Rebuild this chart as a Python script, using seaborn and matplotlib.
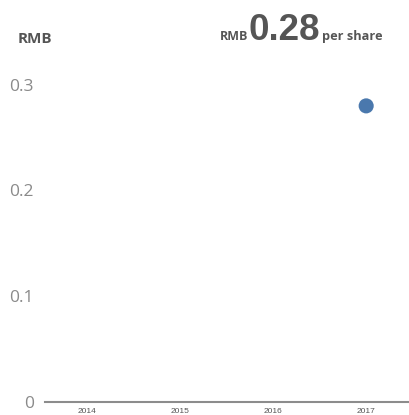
import numpy as np
import pandas as pd
import matplotlib
matplotlib.use("Agg")
import matplotlib.pyplot as plt
import seaborn as sns

years = ["2014", "2015", "2016", "2017"]
dividend = [np.nan, np.nan, np.nan, 0.28]
y_ticks = [0, 0.1, 0.2, 0.3]
y_tick_labels = ["0", "0.1", "0.2", "0.3"]

df = pd.DataFrame({"year": years, "dividend": dividend})

sns.set_theme(style="white")
plt.rcParams["font.family"] = ["Open Sans", "DejaVu Sans"]

fig = plt.figure(figsize=(4.09, 4.15), dpi=100)
ax = fig.add_axes([45 / 409, 13 / 415, 1 - 45 / 409, (402 - 53) / 415])

sns.scatterplot(data=df, x="year", y="dividend", ax=ax, s=118,
                color="#4a78ad", edgecolor="none", legend=False)

ax.set_xlim(-0.45, 3.46)
ax.set_ylim(0, 0.33)
ax.set_yticks(y_ticks)
ax.set_yticklabels(y_tick_labels)
ax.set_xlabel("")
ax.set_ylabel("")

for side in ["top", "right", "left"]:
    ax.spines[side].set_visible(False)
ax.spines["bottom"].set_color("#8c8c8c")
ax.spines["bottom"].set_linewidth(1.5)

ax.tick_params(axis="y", length=0, pad=8, labelsize=12.5, labelcolor="#8a8a8a")
ax.tick_params(axis="x", length=0, pad=4, labelsize=6, labelcolor="#555555")
for lbl in ax.get_xticklabels():
    lbl.set_family(["Liberation Sans", "DejaVu Sans"])

fig.text(18 / 409, 1 - 43 / 415, "RMB", fontsize=11, fontweight="bold",
         color="#555555", va="baseline", ha="left")
fig.text(220 / 409, 1 - 40 / 415, "RMB", fontsize=9, fontweight="bold",
         color="#555555", va="baseline", ha="left")
fig.text(248 / 409, 1 - 40 / 415, "0.28", fontsize=26.5, fontweight="bold",
         color="#555555", va="baseline", ha="left",
         family=["Liberation Sans", "DejaVu Sans"])
fig.text(322 / 409, 1 - 40 / 415, "per share", fontsize=9.2, fontweight="bold",
         color="#555555", va="baseline", ha="left")

fig.savefig("out.png", dpi=100)
